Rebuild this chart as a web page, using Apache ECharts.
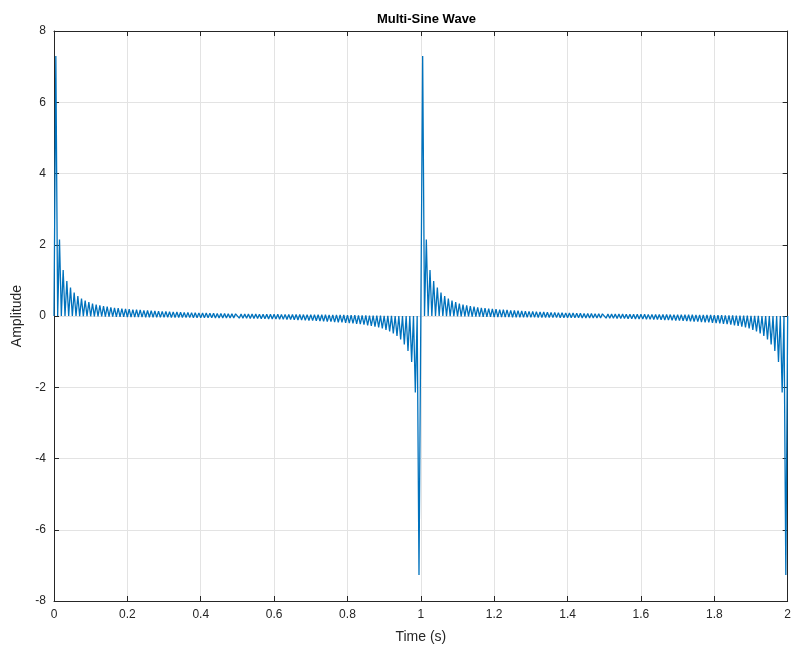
<!DOCTYPE html>
<html>
<head>
<meta charset="utf-8">
<script src="https://cdn.jsdelivr.net/npm/echarts@6/dist/echarts.min.js"></script>
<style>html,body{margin:0;padding:0;background:#fff}#chart{width:794px;height:654px}</style>
</head>
<body>
<div id="chart"></div>
<script>
// Sample step (s) (one oscillation every 0.01 s)
const sampleStep = 0.005;
// Period 1, first half: peak samples (t = 0.005 .. 0.495) and trough samples (t = 0 .. 0.49)
const peaksPos1 = [7.3, 2.15, 1.29, 0.98, 0.80, 0.66, 0.56, 0.49, 0.43, 0.39, 0.35, 0.32, 0.30, 0.28, 0.26, 0.245, 0.23, 0.22, 0.21, 0.20, 0.19, 0.18, 0.175, 0.17, 0.16, 0.155, 0.15, 0.14, 0.135, 0.13, 0.125, 0.12, 0.115, 0.11, 0.105, 0.10, 0.098, 0.095, 0.092, 0.088, 0.085, 0.082, 0.079, 0.076, 0.073, 0.07, 0.068, 0.066, 0.064, 0.062];
const troughs1a = [0, 0, 0, 0, 0, 0, 0, -0.002, -0.004, -0.006, -0.008, -0.01, -0.012, -0.014, -0.016, -0.018, -0.02, -0.022, -0.024, -0.026, -0.028, -0.03, -0.031, -0.032, -0.033, -0.034, -0.035, -0.036, -0.037, -0.038, -0.039, -0.04, -0.041, -0.042, -0.043, -0.044, -0.045, -0.046, -0.047, -0.048, -0.049, -0.05, -0.051, -0.052, -0.053, -0.054, -0.055, -0.056, -0.057, -0.058];
// Period 1, second half: trough samples (t = 0.5 .. 0.99) and negative peaks (t = 0.505 .. 0.995)
const troughs1b = [0.058, 0.057, 0.056, 0.055, 0.054, 0.053, 0.052, 0.051, 0.05, 0.049, 0.048, 0.047, 0.046, 0.045, 0.044, 0.043, 0.042, 0.041, 0.04, 0.039, 0.038, 0.037, 0.036, 0.035, 0.034, 0.033, 0.032, 0.031, 0.03, 0.028, 0.026, 0.024, 0.022, 0.02, 0.018, 0.016, 0.014, 0.012, 0.01, 0.008, 0.006, 0.004, 0.002, 0, 0, 0, 0, 0, 0, 0];
const peaksNeg1 = [-0.062, -0.064, -0.066, -0.068, -0.07, -0.073, -0.076, -0.079, -0.082, -0.085, -0.088, -0.092, -0.095, -0.098, -0.10, -0.105, -0.11, -0.115, -0.12, -0.125, -0.13, -0.135, -0.14, -0.15, -0.155, -0.16, -0.17, -0.175, -0.18, -0.19, -0.20, -0.21, -0.22, -0.23, -0.245, -0.26, -0.28, -0.30, -0.32, -0.35, -0.39, -0.43, -0.49, -0.56, -0.66, -0.80, -0.98, -1.29, -2.15, -7.27];
// Period 2 (t = 1 .. 2)
const peaksPos2 = [7.3, 2.15, 1.29, 0.98, 0.80, 0.66, 0.56, 0.49, 0.43, 0.39, 0.35, 0.32, 0.30, 0.28, 0.26, 0.245, 0.23, 0.22, 0.21, 0.20, 0.19, 0.18, 0.175, 0.17, 0.16, 0.155, 0.15, 0.14, 0.135, 0.13, 0.125, 0.12, 0.115, 0.11, 0.105, 0.10, 0.098, 0.095, 0.092, 0.088, 0.085, 0.082, 0.079, 0.076, 0.073, 0.07, 0.068, 0.066, 0.064, 0.062];
const troughs2a = [0, 0, 0, 0, 0, 0, 0, -0.002, -0.004, -0.006, -0.008, -0.01, -0.012, -0.014, -0.016, -0.018, -0.02, -0.022, -0.024, -0.026, -0.028, -0.03, -0.031, -0.032, -0.033, -0.034, -0.035, -0.036, -0.037, -0.038, -0.039, -0.04, -0.041, -0.042, -0.043, -0.044, -0.045, -0.046, -0.047, -0.048, -0.049, -0.05, -0.051, -0.052, -0.053, -0.054, -0.055, -0.056, -0.057, -0.058];
const troughs2b = [0.058, 0.057, 0.056, 0.055, 0.054, 0.053, 0.052, 0.051, 0.05, 0.049, 0.048, 0.047, 0.046, 0.045, 0.044, 0.043, 0.042, 0.041, 0.04, 0.039, 0.038, 0.037, 0.036, 0.035, 0.034, 0.033, 0.032, 0.031, 0.03, 0.028, 0.026, 0.024, 0.022, 0.02, 0.018, 0.016, 0.014, 0.012, 0.01, 0.008, 0.006, 0.004, 0.002, 0, 0, 0, 0, 0, 0, 0];
const peaksNeg2 = [-0.062, -0.064, -0.066, -0.068, -0.07, -0.073, -0.076, -0.079, -0.082, -0.085, -0.088, -0.092, -0.095, -0.098, -0.10, -0.105, -0.11, -0.115, -0.12, -0.125, -0.13, -0.135, -0.14, -0.15, -0.155, -0.16, -0.17, -0.175, -0.18, -0.19, -0.20, -0.21, -0.22, -0.23, -0.245, -0.26, -0.28, -0.30, -0.32, -0.35, -0.39, -0.43, -0.49, -0.56, -0.66, -0.80, -0.98, -1.29, -2.15, -7.27];
// Final sample at t = 2
const finalValue = [0];

const titleText = 'Multi-Sine Wave';
const xName = 'Time (s)';
const yName = 'Amplitude';

const seriesData = [];
let n = 0;
const pairs = [[troughs1a, peaksPos1], [troughs1b, peaksNeg1], [troughs2a, peaksPos2], [troughs2b, peaksNeg2]];
for (const [tr, pk] of pairs) {
  for (let i = 0; i < pk.length; i++) {
    seriesData.push([+(n * sampleStep).toFixed(4), tr[i]]); n++;
    seriesData.push([+(n * sampleStep).toFixed(4), pk[i]]); n++;
  }
}
seriesData.push([+(n * sampleStep).toFixed(4), finalValue[0]]);

const axisColor = '#262626';
const font = 'Liberation Sans, Arial, Helvetica, sans-serif';
const chart = echarts.init(document.getElementById('chart'), null, {renderer: 'canvas'});
chart.setOption({
  animation: false,
  backgroundColor: '#ffffff',
  title: {
    text: titleText, left: 421.5, textAlign: 'center', top: 8,
    textStyle: {fontFamily: font, fontSize: 13, fontWeight: 'bold', color: '#000'}
  },
  grid: {left: 54, right: 5, top: 31, bottom: 53, containLabel: false},
  xAxis: [{
    type: 'value', min: 0, max: 2, interval: 0.2,
    name: xName, nameLocation: 'middle', nameGap: 29,
    nameTextStyle: {fontFamily: font, fontSize: 14, color: axisColor},
    axisLine: {show: true, onZero: false, lineStyle: {color: axisColor, width: 1}},
    axisTick: {show: true, inside: true, length: 5, lineStyle: {color: axisColor}},
    axisLabel: {fontFamily: font, fontSize: 12, color: axisColor, margin: 8,
      formatter: v => String(+v.toFixed(1))},
    splitLine: {show: true, lineStyle: {color: '#e3e3e3', width: 1}}
  }, {
    type: 'value', min: 0, max: 2, interval: 0.2, position: 'top',
    axisLine: {show: true, onZero: false, lineStyle: {color: axisColor, width: 1}},
    axisTick: {show: true, inside: true, length: 5, lineStyle: {color: axisColor}},
    axisLabel: {show: false}, splitLine: {show: false}
  }],
  yAxis: [{
    type: 'value', min: -8, max: 8, interval: 2,
    name: yName, nameLocation: 'middle', nameGap: 25,
    nameTextStyle: {fontFamily: font, fontSize: 14, color: axisColor},
    axisLine: {show: true, onZero: false, lineStyle: {color: axisColor, width: 1}},
    axisTick: {show: true, inside: true, length: 5, lineStyle: {color: axisColor}},
    axisLabel: {fontFamily: font, fontSize: 12, color: axisColor, margin: 8},
    splitLine: {show: true, lineStyle: {color: '#e3e3e3', width: 1}}
  }, {
    type: 'value', min: -8, max: 8, interval: 2, position: 'right',
    axisLine: {show: true, onZero: false, lineStyle: {color: axisColor, width: 1}},
    axisTick: {show: true, inside: true, length: 5, lineStyle: {color: axisColor}},
    axisLabel: {show: false}, splitLine: {show: false}
  }],
  series: [{
    type: 'line', xAxisIndex: 0, yAxisIndex: 0,
    data: seriesData, showSymbol: false, symbol: 'none',
    lineStyle: {color: '#0072BD', width: 1.3},
    sampling: null
  }]
});
</script>
</body>
</html>
